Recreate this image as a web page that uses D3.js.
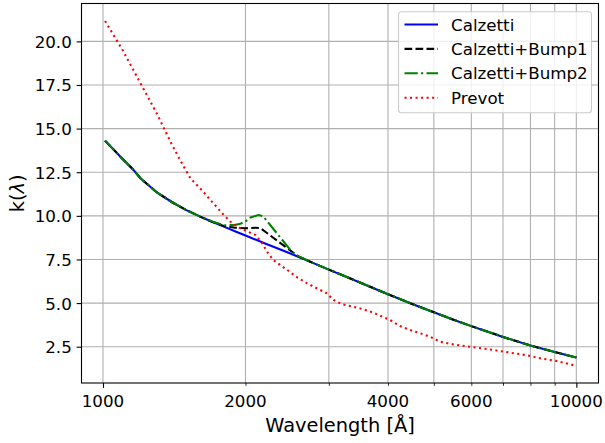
<!DOCTYPE html>
<html><head><meta charset="utf-8">
<script src="https://cdn.jsdelivr.net/npm/d3@7"></script>
<style>
body{margin:0;background:#fff}
text{font-family:"DejaVu Sans",sans-serif;fill:#000}
</style>
</head><body>
<svg id="chart" width="605" height="443"></svg>
<script>
// ---- data ----
const calzettiWave = [1010,1100,1160,1200,1300,1400,1500,1600,1700,1800,1900,2000,2200,2400,2600,2800,3000,3500,4000,4500,5000,5500,6000,6500,7000,8000,9000,10000];
const calzettiK    = [14.31,13.26,12.63,12.15,11.34,10.78,10.33,9.97,9.66,9.38,9.12,8.87,8.42,8.01,7.63,7.26,6.92,6.17,5.51,4.95,4.47,4.05,3.68,3.36,3.06,2.57,2.19,1.88];

const bump1Wave = [1010,1100,1160,1200,1300,1400,1500,1600,1700,1800,1900,2000,2100,2150,2590,2800,3000,3500,4000,4500,5000,5500,6000,6500,7000,8000,9000,10000];
const bump1K    = [14.31,13.26,12.63,12.15,11.34,10.78,10.33,9.97,9.66,9.42,9.32,9.29,9.32,9.30,7.66,7.26,6.92,6.17,5.51,4.95,4.47,4.05,3.68,3.36,3.06,2.57,2.19,1.88];

const bump2Wave = [1010,1100,1160,1200,1300,1400,1500,1600,1700,1800,1900,1950,2000,2050,2130,2180,2520,2600,2800,3000,3500,4000,4500,5000,5500,6000,6500,7000,8000,9000,10000];
const bump2K    = [14.31,13.26,12.63,12.15,11.34,10.78,10.33,9.97,9.68,9.46,9.48,9.54,9.68,9.91,10.05,9.97,7.86,7.66,7.26,6.92,6.17,5.51,4.95,4.47,4.05,3.68,3.36,3.06,2.57,2.19,1.88];

const prevotWave = [1010,1100,1200,1300,1400,1455,1530,1620,1700,1800,1860,1950,2100,2170,2220,2290,2370,2450,2560,2700,2830,2970,3070,3190,3380,3550,3730,3910,4040,4240,4450,4680,4910,5150,5410,5680,6160,6680,7240,7860,8380,9090,9870];
const prevotK    = [21.17,19.5,17.6,15.85,14.05,13.2,12.15,11.45,10.8,10.05,9.66,9.29,8.9,8.43,7.95,7.47,7.18,6.9,6.51,6.13,5.85,5.56,5.18,4.95,4.79,4.64,4.45,4.19,4.03,3.69,3.46,3.27,3.07,2.79,2.66,2.58,2.44,2.31,2.16,2.01,1.84,1.68,1.44];

const seriesNames = ["Calzetti","Calzetti+Bump1","Calzetti+Bump2","Prevot"];
const xLabeledTicks = [1000,2000,4000,6000,10000];
const xMajorTicks = [1000,10000];
const xMinorTicks = [2000,3000,4000,5000,6000,7000,8000,9000];
const yTicks = [2.5,5.0,7.5,10.0,12.5,15.0,17.5,20.0];

// ---- layout ----
const L = 81.5, R = 598.5, T = 3.5, B = 383;
const svg = d3.select("#chart");
const x = d3.scaleLog().domain([900.7, 11139]).range([L, R]);
const y = d3.scaleLinear().domain([0.42, 22.17]).range([B, T]);

const styles = [
  {color:"#0000ff", dash:null},
  {color:"#000000", dash:"7.7,3.3"},
  {color:"#008000", dash:"13.3,3.3,2.1,3.3"},
  {color:"#ff0000", dash:"2.08,3.44"}
];
const series = [
  calzettiWave.map((w,i)=>[w,calzettiK[i]]),
  bump1Wave.map((w,i)=>[w,bump1K[i]]),
  bump2Wave.map((w,i)=>[w,bump2K[i]]),
  prevotWave.map((w,i)=>[w,prevotK[i]])
];

// grid
const g = svg.append("g");
g.selectAll(".vg").data(xMajorTicks.concat(xMinorTicks)).enter().append("line")
  .attr("x1",d=>x(d)).attr("x2",d=>x(d)).attr("y1",T).attr("y2",B)
  .attr("stroke","#b0b0b0").attr("stroke-width",1.1);
g.selectAll(".hg").data(yTicks).enter().append("line")
  .attr("x1",L).attr("x2",R).attr("y1",d=>y(d)).attr("y2",d=>y(d))
  .attr("stroke","#b0b0b0").attr("stroke-width",1.1);

// lines
const line = d3.line().x(d=>x(d[0])).y(d=>y(d[1]));
series.forEach((s,i)=>{
  svg.append("path").datum(s).attr("d",line).attr("fill","none")
    .attr("stroke",styles[i].color).attr("stroke-width",2.08)
    .attr("stroke-dasharray",styles[i].dash);
});

// axes
const xAxisMajor = d3.axisBottom(x).tickValues(xMajorTicks).tickSize(4.86).tickFormat("");
const xAxisMinor = d3.axisBottom(x).tickValues(xMinorTicks).tickSize(2.78).tickFormat("");
const gx1 = svg.append("g").attr("transform",`translate(0,${B})`).call(xAxisMajor);
const gx2 = svg.append("g").attr("transform",`translate(0,${B})`).call(xAxisMinor);
[gx1,gx2].forEach(a=>{a.select(".domain").remove(); a.selectAll("line").attr("stroke","#000");});
gx1.selectAll("line").attr("stroke-width",1.1);
gx2.selectAll("line").attr("stroke-width",0.83);

svg.append("g").selectAll("text").data(xLabeledTicks).enter().append("text")
  .attr("x",d=>x(d)).attr("y",406.5).attr("text-anchor","middle")
  .style("font-size","16.7px").text(d=>d3.format("d")(d));

const yAxis = d3.axisLeft(y).tickValues(yTicks).tickSize(4.86).tickPadding(4.86).tickFormat(d3.format(".1f"));
const gy = svg.append("g").attr("transform",`translate(${L},0)`).call(yAxis);
gy.select(".domain").remove();
gy.selectAll("line").attr("stroke","#000").attr("stroke-width",1.1);
gy.selectAll("text").attr("dy",null).attr("y",6).style("font-size","16.7px")
  .style("font-family","DejaVu Sans");

// spines
svg.append("rect").attr("x",L).attr("y",T).attr("width",R-L).attr("height",B-T)
  .attr("fill","none").attr("stroke","#000").attr("stroke-width",1.1);

// axis labels
svg.append("text").attr("x",(L+R)/2).attr("y",431.5).attr("text-anchor","middle")
  .style("font-size","19.4px").text("Wavelength [Å]");
const yl = svg.append("text").attr("transform",`translate(23.5,${(T+B)/2}) rotate(-90)`)
  .attr("text-anchor","middle").style("font-size","19.4px");
yl.append("tspan").text("k(");
yl.append("tspan").style("font-style","italic").text("λ");
yl.append("tspan").text(")");

// legend
const lg = svg.append("g");
lg.append("rect").attr("x",398.5).attr("y",11.8).attr("width",193).attr("height",101)
  .attr("rx",3).attr("fill","#fff").attr("fill-opacity",0.8).attr("stroke","#cccccc").attr("stroke-width",1.1);
seriesNames.forEach((name,i)=>{
  const cy = 24.5 + i*24.4;
  lg.append("line").attr("x1",404.5).attr("x2",438).attr("y1",cy).attr("y2",cy)
    .attr("stroke",styles[i].color).attr("stroke-width",2.08).attr("stroke-dasharray",styles[i].dash);
  lg.append("text").attr("x",451).attr("y",cy+6).style("font-size","16.7px").text(name);
});
</script>
</body></html>
